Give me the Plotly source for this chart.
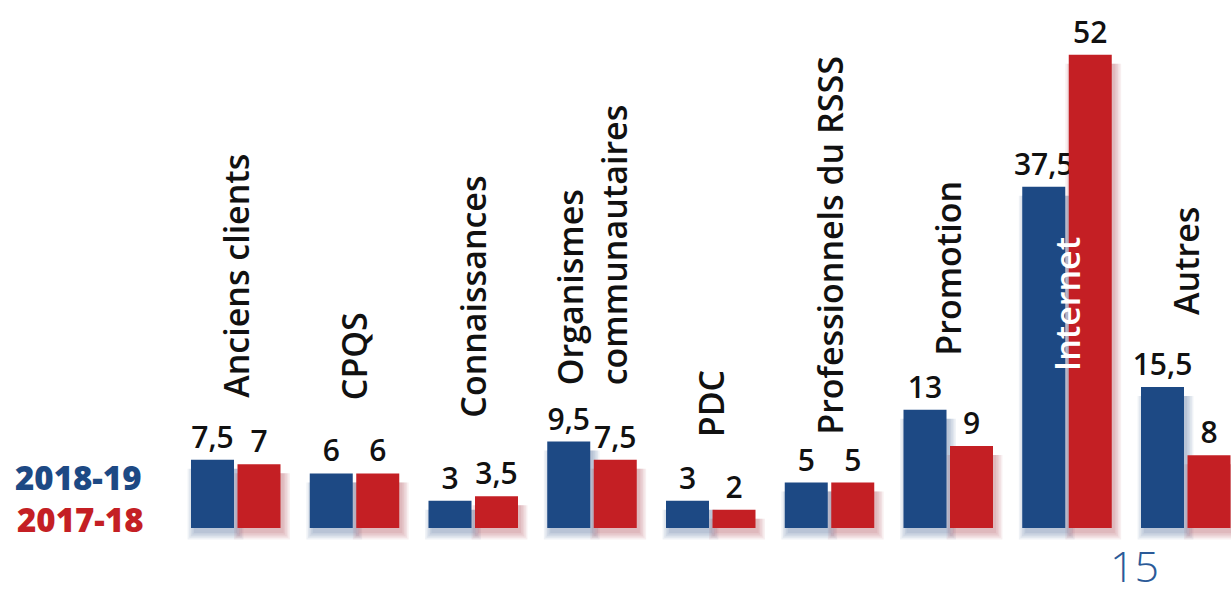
import plotly.graph_objects as go

# Sources de référence, deux années comparées
categories = [
    "Anciens clients", "CPQS", "Connaissances", "Organismes<br>communautaires",
    "PDC", "Professionnels du RSSS", "Promotion", "Internet", "Autres",
]
values_2018_19 = [7.5, 6, 3, 9.5, 3, 5, 13, 37.5, 15.5]
values_2017_18 = [7, 6, 3.5, 7.5, 2, 5, 9, 52, 8]
series_names = ["2018-19", "2017-18"]

BLUE = "#1d4984"
RED = "#c41f24"
INK = "#111111"
FONT = "Open Sans"

PX_X = 118.75      # pixels per category step
PX_Y = 9.1         # pixels per unit of value
BASE_PX = 528      # baseline position from the top
W, H = 1231, 597

bar_w = 43 / PX_X
offsets = {"blue": -45 / PX_X, "red": 1.5 / PX_X}

def fmt(v):
    return f"{v:g}".replace(".", ",")

fig = go.Figure()
xs = list(range(len(categories)))

# soft drop shadows behind each bar
for vals, color, key in [(values_2018_19, "rgba(29,73,132,0.07)", "blue"),
                         (values_2017_18, "rgba(150,30,36,0.07)", "red")]:
    for k in range(5):
        grow = 1.6 * k
        fig.add_trace(go.Bar(
            x=xs,
            y=[v + (grow - 4) / PX_Y for v in vals],
            base=[-(5 + grow) / PX_Y] * len(vals),
            offset=offsets[key] + (3 - grow) / PX_X,
            width=bar_w + 2 * grow / PX_X,
            marker=dict(color=color, line=dict(width=0)),
            hoverinfo="skip", showlegend=False,
        ))

for vals, color, key, name in [(values_2018_19, BLUE, "blue", series_names[0]),
                               (values_2017_18, RED, "red", series_names[1])]:
    fig.add_trace(go.Bar(
        x=xs, y=vals, name=name,
        offset=offsets[key], width=bar_w,
        marker=dict(color=color, line=dict(width=0)),
        text=[fmt(v) for v in vals], textposition="outside",
        textfont=dict(family=FONT, size=30, color=INK, weight=600),
        constraintext="none", cliponaxis=False, showlegend=False,
    ))

# category labels, rotated, placed above each pair of bars
label_lift = [60, 71, 76, 54, 61, 46, 52, 0, 70]
for i, cat in enumerate(categories):
    top = max(values_2018_19[i], values_2017_18[i])
    if cat == "Internet":
        fig.add_annotation(x=i, y=0, yref="y", text=cat, textangle=-90,
                           xanchor="center", yanchor="bottom", yshift=155,
                           showarrow=False, align="left",
                           font=dict(family=FONT, size=34, color="white", weight=600))
        continue
    fig.add_annotation(x=i, y=top, yref="y", text=cat, textangle=-90,
                       xanchor="center", yanchor="bottom", yshift=label_lift[i],
                       showarrow=False, align="left",
                       font=dict(family=FONT, size=34, color=INK, weight=600))

# series key on the left
fig.add_annotation(x=13 / W, y=1 - 477 / H, xref="paper", yref="paper",
                   text=series_names[0], showarrow=False, xanchor="left", yanchor="middle",
                   font=dict(family=FONT, size=33, color=BLUE, weight=800))
fig.add_annotation(x=15 / W, y=1 - 519 / H, xref="paper", yref="paper",
                   text=series_names[1], showarrow=False, xanchor="left", yanchor="middle",
                   font=dict(family=FONT, size=33, color=RED, weight=800))

# page number
fig.add_annotation(x=1134 / W, y=0, xref="paper", yref="paper",
                   text="15", showarrow=False, xanchor="center", yanchor="bottom",
                   font=dict(family=FONT, size=43, color="#2b5a98", weight=300))

fig.update_layout(
    width=W, height=H, barmode="overlay",
    margin=dict(l=0, r=0, t=0, b=0, pad=0),
    paper_bgcolor="white", plot_bgcolor="white",
    xaxis=dict(range=[-236 / PX_X, (W - 236) / PX_X], visible=False, fixedrange=True),
    yaxis=dict(range=[-(H - BASE_PX) / PX_Y, BASE_PX / PX_Y], visible=False, fixedrange=True),
    showlegend=False,
)

fig.write_html("out.html")
